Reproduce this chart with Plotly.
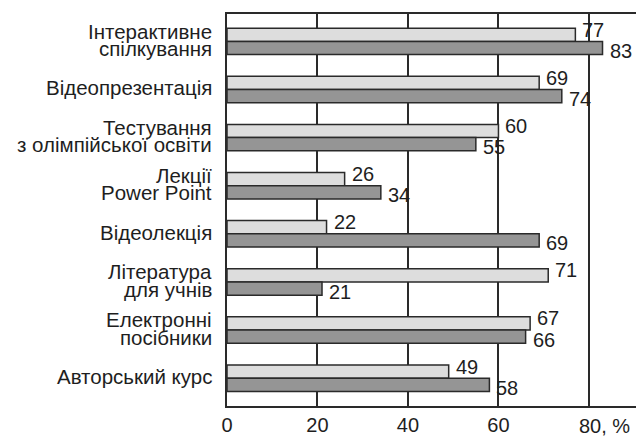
import plotly.graph_objects as go

categories = [
    "Інтерактивне\nспілкування",
    "Відеопрезентація",
    "Тестування\nз олімпійської освіти",
    "Лекції\nPower Point",
    "Відеолекція",
    "Література\nдля учнів",
    "Електронні\nпосібники",
    "Авторський курс",
]
series_light = [77, 69, 60, 26, 22, 71, 67, 49]
series_dark = [83, 74, 55, 34, 69, 21, 66, 58]
x_tick_vals = [0, 20, 40, 60, 80]
x_tick_text = ["0", "20", "40", "60", ""]
x_last_label = "80, %"

FONT = "Liberation Sans, Arial, sans-serif"
TXT = "#1e1e1e"
LINE = "#2a2a2a"
FS = 20
FS_CAT = 20.5
BARGAP = 0.45

idx = list(range(len(categories)))

fig = go.Figure()
fig.add_trace(go.Bar(
    y=idx, x=series_light, orientation="h",
    marker=dict(color="#dddddd", line=dict(color=LINE, width=1.5)),
    hoverinfo="x",
))
fig.add_trace(go.Bar(
    y=idx, x=series_dark, orientation="h",
    marker=dict(color="#959595", line=dict(color=LINE, width=1.5)),
    hoverinfo="x",
))

off = (1 - BARGAP) / 4
ann = []
for i, (a, b) in enumerate(zip(series_light, series_dark)):
    ann.append(dict(x=a, y=i - off, text=str(a), showarrow=False, xanchor="left",
                    xshift=5, yshift=5, font=dict(size=FS, color=TXT, family=FONT)))
    ann.append(dict(x=b, y=i + off, text=str(b), showarrow=False, xanchor="left",
                    xshift=5, yshift=-3, font=dict(size=FS, color=TXT, family=FONT)))
# category labels, each line separately for tight leading
LEAD = 17.5
for i, c in enumerate(categories):
    lines = c.split("\n")
    n = len(lines)
    for j, ln in enumerate(lines):
        shift = ((n - 1) / 2 - j) * LEAD
        ann.append(dict(x=0, xref="paper", y=i, yref="y", text=ln, showarrow=False,
                        xanchor="right", xshift=-13, yshift=shift + 1.5,
                        font=dict(size=FS_CAT, color=TXT, family=FONT)))
ann.append(dict(x=80, xref="x", y=0, yref="paper", text=x_last_label, showarrow=False,
                xanchor="left", yanchor="top", xshift=-12, yshift=-7,
                font=dict(size=FS, color=TXT, family=FONT)))

fig.update_layout(
    width=636, height=436,
    margin=dict(l=227, r=0, t=14, b=28),
    barmode="group", bargap=BARGAP, bargroupgap=0,
    plot_bgcolor="white", paper_bgcolor="white",
    showlegend=False,
    font=dict(family=FONT, size=FS, color=TXT),
    annotations=ann,
    xaxis=dict(range=[0, 90.4], tickvals=x_tick_vals, ticktext=x_tick_text,
               showgrid=True, gridcolor=LINE, gridwidth=1.5,
               showline=True, linecolor=LINE, linewidth=1.5, mirror=True,
               zeroline=False, ticks="", fixedrange=True),
    yaxis=dict(range=[7.578, -0.569], showticklabels=False, showgrid=False,
               showline=True, linecolor=LINE, linewidth=1.5, zeroline=False,
               ticks="", fixedrange=True),
)

fig.write_html("out.html", config={"displayModeBar": False},
               post_script="document.body.style.margin='0';document.body.style.overflow='hidden';")
